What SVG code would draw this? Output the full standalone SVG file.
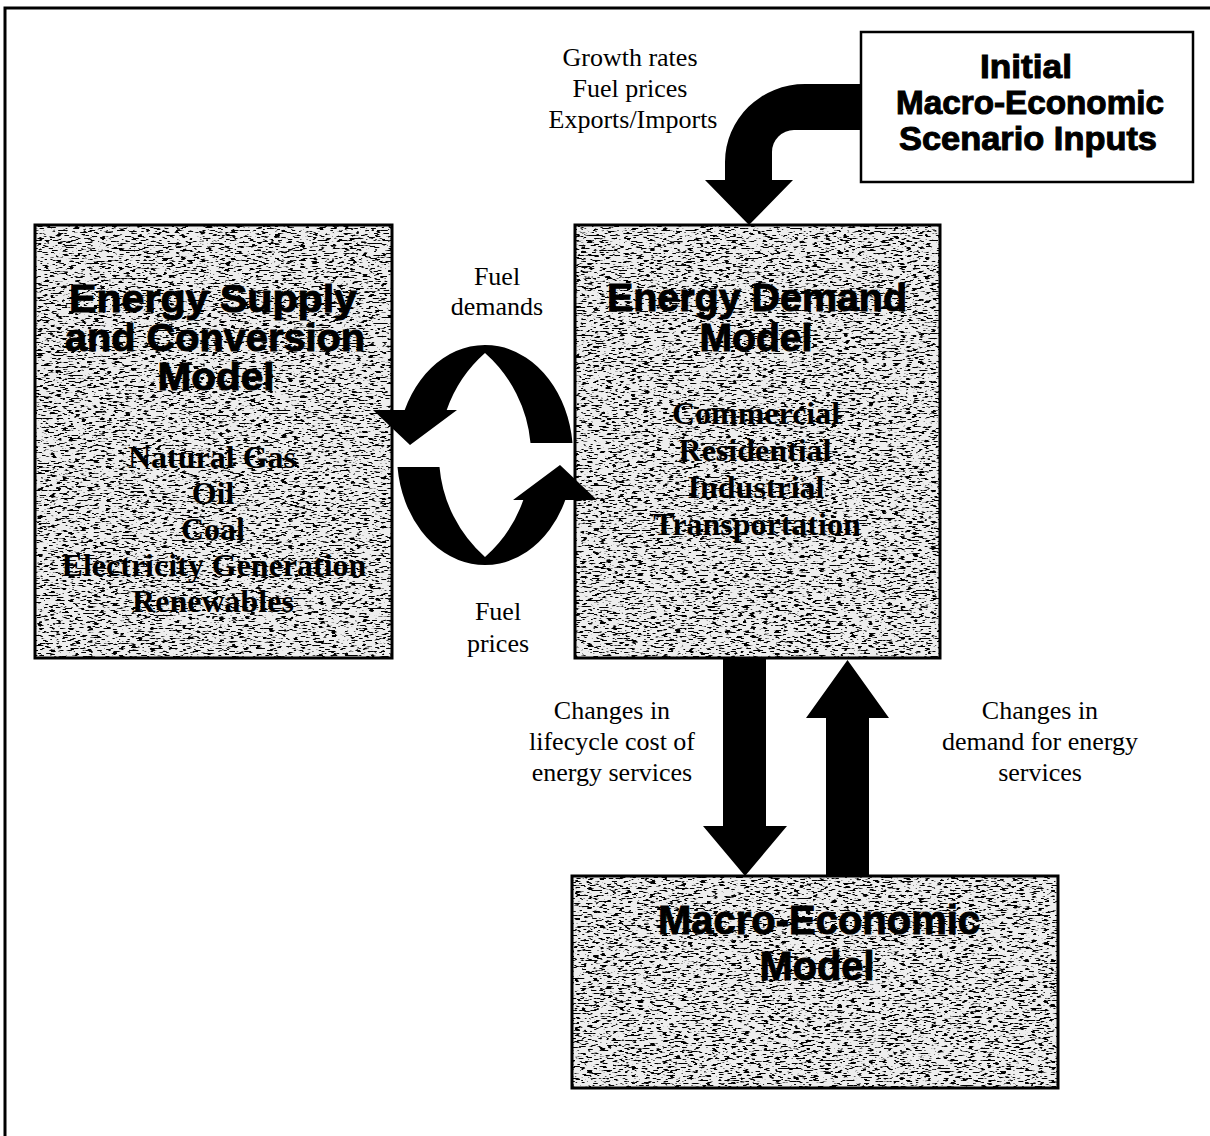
<svg xmlns="http://www.w3.org/2000/svg" width="1210" height="1136" viewBox="0 0 1210 1136">
  <defs>
    <style>
      .frame { fill: none; stroke: #000; stroke-width: 3; }
      .box { fill: none; stroke: #000; stroke-width: 3; }
      .plain { fill: #fff; stroke: #000; stroke-width: 2.5; }
      .shade { fill: #fff; filter: url(#grain); }
      .arrow { fill: #000; stroke: none; }
      .title { font-family: "Liberation Sans", Arial, Helvetica, sans-serif; font-weight: bold; fill: #000; stroke: #000; stroke-width: 1; text-anchor: middle; }
      .item { font-family: "Liberation Serif", "Times New Roman", serif; font-weight: bold; font-size: 32px; fill: #000; text-anchor: middle; }
      .label { font-family: "Liberation Serif", "Times New Roman", serif; font-size: 26px; fill: #000; text-anchor: middle; }
    </style>
    <!-- speckled halftone fill used inside the model boxes -->
    <filter id="grain" x="0" y="0" width="1" height="1" filterUnits="objectBoundingBox" color-interpolation-filters="sRGB">
      <feTurbulence type="fractalNoise" baseFrequency="0.16 0.6" numOctaves="2" seed="7" result="noise"/>
      <feColorMatrix in="noise" type="matrix" values="0 0 0 0 0  0 0 0 0 0  0 0 0 0 0  12 0 0 0 -6.65" result="specks"/>
      <feFlood flood-color="#eeeeee" result="paper"/>
      <feComposite in="specks" in2="paper" operator="over" result="tex"/>
      <feComposite in="tex" in2="SourceGraphic" operator="in"/>
    </filter>
  </defs>

  <rect x="0" y="0" width="1210" height="1136" fill="#fff"/>

  <!-- page frame (top and left rules) -->
  <path class="frame" d="M5,1136 V8 H1210"/>

  <!-- Initial Macro-Economic Scenario Inputs -->
  <g id="node-initial">
    <rect class="plain" x="861" y="32" width="332" height="150"/>
    <text class="title" x="1026" y="78" font-size="33" textLength="92" lengthAdjust="spacingAndGlyphs">Initial</text>
    <text class="title" x="1030" y="114" font-size="33" textLength="268" lengthAdjust="spacingAndGlyphs">Macro-Economic</text>
    <text class="title" x="1028" y="150" font-size="33" textLength="258" lengthAdjust="spacingAndGlyphs">Scenario Inputs</text>
  </g>

  <!-- Energy Supply and Conversion Model -->
  <g id="node-supply">
    <rect class="shade" x="35" y="225" width="357" height="433"/>
    <rect class="box" x="35" y="225" width="357" height="433"/>
    <text class="title" x="213" y="312" font-size="38" textLength="288" lengthAdjust="spacingAndGlyphs">Energy Supply</text>
    <text class="title" x="215" y="351" font-size="38" textLength="300" lengthAdjust="spacingAndGlyphs">and Conversion</text>
    <text class="title" x="216" y="390" font-size="38" textLength="117" lengthAdjust="spacingAndGlyphs">Model</text>
    <text class="item" x="212" y="468">Natural Gas</text>
    <text class="item" x="213" y="504">Oil</text>
    <text class="item" x="213" y="540">Coal</text>
    <text class="item" x="214" y="576">Electricity Generation</text>
    <text class="item" x="213" y="612">Renewables</text>
  </g>

  <!-- Energy Demand Model -->
  <g id="node-demand">
    <rect class="shade" x="575" y="225" width="365" height="433"/>
    <rect class="box" x="575" y="225" width="365" height="433"/>
    <text class="title" x="757" y="311" font-size="38" textLength="300" lengthAdjust="spacingAndGlyphs">Energy Demand</text>
    <text class="title" x="756" y="351" font-size="38" textLength="113" lengthAdjust="spacingAndGlyphs">Model</text>
    <text class="item" x="756" y="424">Commercial</text>
    <text class="item" x="755" y="461">Residential</text>
    <text class="item" x="756" y="498">Industrial</text>
    <text class="item" x="757" y="535">Transportation</text>
  </g>

  <!-- Macro-Economic Model -->
  <g id="node-macro">
    <rect class="shade" x="572" y="876" width="486" height="212"/>
    <rect class="box" x="572" y="876" width="486" height="212"/>
    <text class="title" x="819" y="934" font-size="40" textLength="322" lengthAdjust="spacingAndGlyphs">Macro-Economic</text>
    <text class="title" x="817" y="980" font-size="40" textLength="115" lengthAdjust="spacingAndGlyphs">Model</text>
  </g>

  <g id="connectors">
    <!-- scenario inputs feed down into the demand model -->
    <g id="edge-inputs">
      <path class="arrow" d="M862,84 L805,84 A80,78 0 0 0 725,162 L725,180 L705,180 L749,225 L793,180 L772,180 L772,152 A22,22 0 0 1 794,130 L862,130 Z"/>
      <text class="label" x="630" y="66">Growth rates</text>
      <text class="label" x="630" y="97">Fuel prices</text>
      <text class="label" x="633" y="128">Exports/Imports</text>
    </g>

    <!-- fuel demands: demand model back to supply model (upper half of the loop) -->
    <g id="edge-fuel-demands">
      <path class="arrow" d="M572.5,443 A88,110 0 0 0 404.7,410 L373,410 L410,445 L457,410 L446.7,410 A136,136 0 0 1 485,353 A136,136 0 0 1 530.5,443 Z"/>
      <text class="label" x="497" y="285">Fuel</text>
      <text class="label" x="497" y="315">demands</text>
    </g>

    <!-- fuel prices: supply model to demand model (lower half of the loop) -->
    <g id="edge-fuel-prices">
      <path class="arrow" transform="rotate(180 485 455)" d="M572.5,443 A88,110 0 0 0 404.7,410 L373,410 L410,445 L457,410 L446.7,410 A136,136 0 0 1 485,353 A136,136 0 0 1 530.5,443 Z"/>
      <text class="label" x="498" y="620">Fuel</text>
      <text class="label" x="498" y="652">prices</text>
    </g>

    <!-- lifecycle cost changes: demand model down to macro model -->
    <g id="edge-cost">
      <path class="arrow" d="M723,658 L766,658 L766,826 L787,826 L745,876 L703,826 L723,826 Z"/>
      <text class="label" x="612" y="719">Changes in</text>
      <text class="label" x="612" y="750">lifecycle cost of</text>
      <text class="label" x="612" y="781">energy services</text>
    </g>

    <!-- demand changes: macro model up to demand model -->
    <g id="edge-demand">
      <path class="arrow" d="M826,876 L869,876 L869,718 L889,718 L847.5,660 L806,718 L826,718 Z"/>
      <text class="label" x="1040" y="719">Changes in</text>
      <text class="label" x="1040" y="750">demand for energy</text>
      <text class="label" x="1040" y="781">services</text>
    </g>
  </g>
</svg>
